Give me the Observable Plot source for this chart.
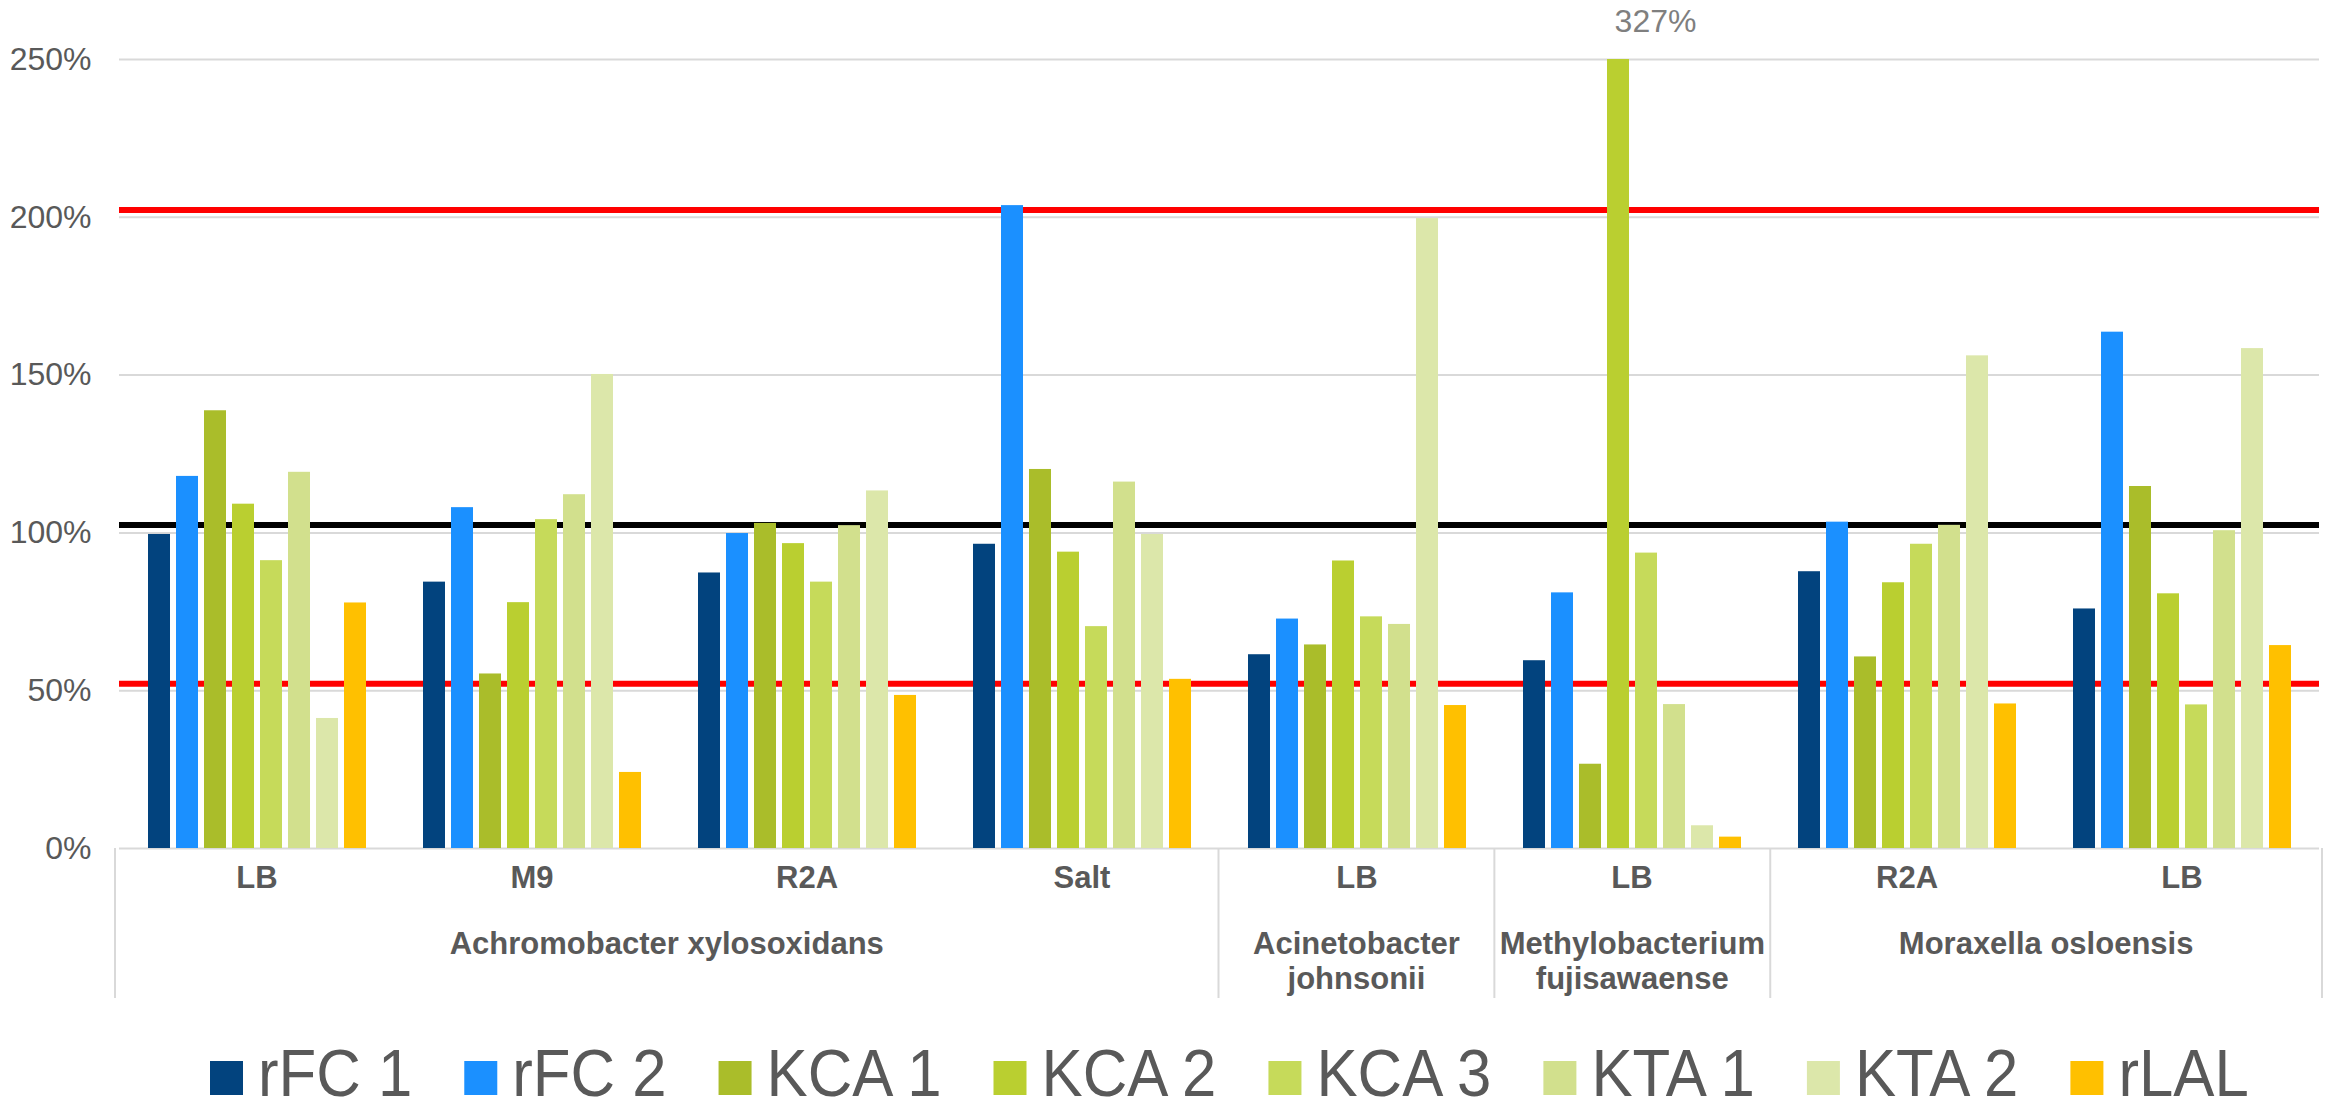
<!DOCTYPE html>
<html>
<head>
<meta charset="utf-8">
<script src="https://cdn.jsdelivr.net/npm/d3@7"></script>
<script src="https://cdn.jsdelivr.net/npm/@observablehq/plot@0.6"></script>
<style>
  html, body { margin: 0; padding: 0; background: #ffffff; }
  body { font-family: "Liberation Sans", Arial, Helvetica, sans-serif; width: 2330px; height: 1111px; overflow: hidden; }
  #chart svg, #legend svg { display: block; }
</style>
</head>
<body>
<div id="chart"></div>
<div id="legend"></div>
<script>
// ---------- DATA ----------
const speciesLabels = [
  ["Achromobacter xylosoxidans"],
  ["Acinetobacter", "johnsonii"],
  ["Methylobacterium", "fujisawaense"],
  ["Moraxella osloensis"]
];
const groupIds     = ["g1", "g2", "g3", "g4", "g5", "g6", "g7", "g8"];
const groupMedium  = ["LB", "M9", "R2A", "Salt", "LB", "LB", "R2A", "LB"];
const groupSpecies = [0, 0, 0, 0, 1, 2, 3, 3];

const series = ["rFC 1", "rFC 2", "KCA 1", "KCA 2", "KCA 3", "KTA 1", "KTA 2", "rLAL"];
const seriesColors = ["#02437e", "#1b90ff", "#aabd2a", "#bacf30", "#c6da5a", "#d2e08d", "#dce7aa", "#ffc000"];

// values in %, one entry per group (in groupIds order)
const rFC1 = [99.5, 84.4, 87.3, 96.4, 61.4, 59.5, 87.7, 75.9];
const rFC2 = [117.9, 108.0, 99.8, 203.7, 72.7, 81.0, 103.4, 163.6];
const KCA1 = [138.7, 55.3, 103.0, 120.1, 64.5, 26.7, 60.7, 114.7];
const KCA2 = [109.1, 77.9, 96.6, 93.9, 91.1, 327, 84.2, 80.7];
const KCA3 = [91.2, 104.2, 84.4, 70.3, 73.4, 93.6, 96.4, 45.5];
const KTA1 = [119.2, 112.1, 102.3, 116.1, 71.0, 45.6, 102.4, 100.7];
const KTA2 = [41.2, 150.2, 113.3, 99.5, 199.6, 7.2, 156.1, 158.4];
const rLAL = [77.8, 24.1, 48.5, 53.6, 45.3, 3.6, 45.8, 64.3];
const seriesValues = [rFC1, rFC2, KCA1, KCA2, KCA3, KTA1, KTA2, rLAL];

const yTicks = [0, 50, 100, 150, 200, 250];
const yMax = 250;
const redLines = [202.3, 52.2];
const blackLines = [102.5];

// ---------- TABLES ----------
const rows = [];
groupIds.forEach((g, i) => series.forEach((s, j) => rows.push({group: g, series: s, value: seriesValues[j][i]})));
const groups = groupIds.map((id, i) => ({id, medium: groupMedium[i], species: groupSpecies[i]}));

const TXT = "#595959";
const FONT = '"Liberation Sans", Arial, Helvetica, sans-serif';
const W = 2330, H = 1005;

const chart = Plot.plot({
  width: W,
  height: H,
  marginLeft: 115,
  marginRight: 8,
  marginTop: 59,
  marginBottom: 157,
  style: {fontFamily: FONT, fontSize: "32px", color: TXT, background: "#ffffff"},
  fx: {domain: groupIds, padding: 0, axis: null, label: null},
  x: {domain: series, paddingInner: 0.22, paddingOuter: 0.885, axis: null},
  y: {domain: [0, yMax], clamp: true, ticks: yTicks, tickFormat: d => d + "%", tickSize: 0, tickPadding: 28, label: null},
  color: {domain: series, range: seriesColors},
  marks: [
    Plot.ruleY(yTicks, {stroke: "#d9d9d9", strokeWidth: 2}),
    Plot.ruleY(redLines, {stroke: "#ff0000", strokeWidth: 6}),
    Plot.ruleY(blackLines, {stroke: "#000000", strokeWidth: 6}),
    Plot.barY(rows, {fx: "group", x: "series", y: "value", fill: "series"}),
    Plot.text(rows.filter(d => d.value > yMax), {
      fx: "group", x: "series", y: "value", text: d => d.value + "%",
      dx: 37, dy: -38, fill: "#7f7f7f", fontSize: 32
    }),
    Plot.text(groups, {
      fx: "id", text: "medium", frameAnchor: "bottom", dy: 39,
      fontSize: 31, fontWeight: "bold", fill: TXT
    })
  ]
});
document.getElementById("chart").appendChild(chart);

// ---------- species level of the category axis (uses Plot's fx / y scales) ----------
const fxS = chart.scale("fx");
const fxBand = d3.scaleBand()
  .domain(fxS.domain)
  .range(fxS.range)
  .paddingInner(fxS.paddingInner ?? 0)
  .paddingOuter(fxS.paddingOuter ?? 0)
  .align(fxS.align ?? 0.5);
const yS = chart.scale("y");
const yApply = yS.apply ? yS.apply : d3.scaleLinear().domain(yS.domain).range(yS.range);
const y0 = yApply(0);
const bw = fxBand.bandwidth();

const svg = d3.select(chart);
const axisG = svg.append("g");
const spans = speciesLabels.map((lines, k) => {
  const ids = groups.filter(g => g.species === k).map(g => g.id);
  return {lines, x0: fxBand(ids[0]), x1: fxBand(ids[ids.length - 1]) + bw};
});
const seps = [spans[0].x0, ...spans.map(s => s.x1)];
axisG.selectAll("line.sep").data(seps).join("line")
  .attr("x1", d => d).attr("x2", d => d)
  .attr("y1", y0).attr("y2", y0 + 150)
  .attr("stroke", "#d9d9d9").attr("stroke-width", 2);
const st = axisG.selectAll("text.sp").data(spans).join("text")
  .attr("x", d => (d.x0 + d.x1) / 2)
  .attr("y", y0 + 106)
  .attr("text-anchor", "middle")
  .attr("fill", TXT)
  .attr("font-family", FONT)
  .attr("font-size", 31)
  .attr("font-weight", "bold");
st.selectAll("tspan").data(d => d.lines.map(l => ({l, x: (d.x0 + d.x1) / 2}))).join("tspan")
  .attr("x", d => d.x)
  .attr("dy", (d, i) => i === 0 ? 0 : 35)
  .text(d => d.l);

// ---------- legend ----------
const LH = 1111 - H;
const lsvg = d3.select("#legend").append("svg").attr("width", W).attr("height", LH);
let cx = 210;
series.forEach((s, i) => {
  lsvg.append("rect").attr("x", cx).attr("y", 56).attr("width", 33).attr("height", 34).attr("fill", seriesColors[i]);
  const tx = cx + 33 + 15;
  const t = lsvg.append("text").attr("x", tx).attr("y", 91)
    .attr("font-family", FONT).attr("font-size", 66).attr("fill", TXT).text(s);
  const len = t.node().getComputedTextLength() * 0.935;
  t.attr("textLength", len).attr("lengthAdjust", "spacingAndGlyphs");
  cx = tx + len + 52;
});
</script>
</body>
</html>
